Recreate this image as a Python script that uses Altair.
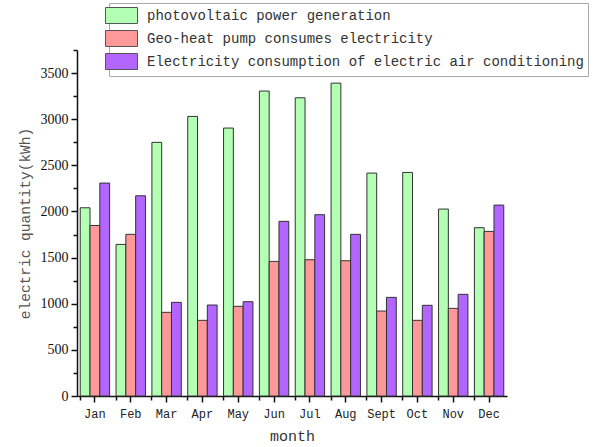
import altair as alt
import pandas as pd

months = ["Jan", "Feb", "Mar", "Apr", "May", "Jun", "Jul", "Aug", "Sept", "Oct", "Nov", "Dec"]
pv = [2040, 1643, 2749, 3030, 2904, 3305, 3232, 3391, 2416, 2423, 2026, 1824]
geo = [1848, 1752, 907, 820, 972, 1459, 1477, 1466, 921, 820, 950, 1784]
ac = [2308, 2170, 1015, 986, 1022, 1893, 1965, 1752, 1069, 983, 1102, 2069]

series = ["photovoltaic power generation",
          "Geo-heat pump consumes electricity",
          "Electricity consumption of electric air conditioning"]
colors = ["#b3ffb3", "#ff9999", "#b366ff"]

rows = []
for i, m in enumerate(months):
    for s, vals in zip(series, [pv, geo, ac]):
        rows.append({"month": m, "series": s, "value": vals[i]})
df = pd.DataFrame(rows)

MONO = "Liberation Mono"
SERIF = "Liberation Serif"

x_main = alt.X("month:N", sort=months,
               scale=alt.Scale(paddingInner=0.18, paddingOuter=0.09),
               axis=alt.Axis(orient="bottom", title="month", labelAngle=0,
                             labelFont=MONO, labelFontSize=12, labelColor="#222",
                             titleFont=MONO, titleFontSize=15, titleColor="#333",
                             titleFontWeight="normal", titlePadding=9,
                             tickSize=6, tickColor="#111", tickWidth=1.5,
                             domainColor="#111", domainWidth=1.5,
                             labelPadding=6, grid=False))
y_main = alt.Y("value:Q", scale=alt.Scale(domain=[0, 3750], nice=False),
               axis=alt.Axis(orient="left", title="electric quantity(kWh)",
                             values=list(range(0, 3501, 500)), format="d",
                             labelFont=SERIF, labelFontSize=14, labelColor="#111",
                             titleFont=MONO, titleFontSize=14.5, titleColor="#555",
                             titleFontWeight="normal", titlePadding=8,
                             tickSize=6, tickColor="#111", tickWidth=1.5,
                             domainColor="#111", domainWidth=1.5,
                             labelPadding=3, grid=False))

bars = alt.Chart(df).mark_bar(stroke="#333", strokeWidth=1).encode(
    x=x_main,
    xOffset=alt.XOffset("series:N", sort=series),
    y=y_main,
    color=alt.Color("series:N", sort=series,
                    scale=alt.Scale(domain=series, range=colors),
                    legend=alt.Legend(title=None, orient="none",
                                      legendX=32, legendY=-47,
                                      symbolType="M-2,-1H2V1H-2Z",
                                      symbolSize=256,
                                      symbolStrokeColor="#555",
                                      symbolStrokeWidth=1,
                                      labelFont=MONO, labelFontSize=14,
                                      labelColor="#333", labelOffset=17,
                                      labelLimit=600,
                                      rowPadding=2, padding=4,
                                      strokeColor="#aaa",
                                      fillColor="white")),
)

minor = alt.Chart(df).mark_point(opacity=0).encode(
    x=alt.X("month:N", sort=months,
            axis=alt.Axis(orient="bottom", bandPosition=0, labels=False, title=None,
                          tickSize=4, tickColor="#111", tickWidth=1.5,
                          domain=False, grid=False)),
    y=alt.Y("value:Q",
            axis=alt.Axis(orient="left", values=list(range(250, 3751, 500)),
                          labels=False, title=None, tickSize=4,
                          tickColor="#111", tickWidth=1.5,
                          domain=False, grid=False)),
)

chart = alt.layer(bars, minor).resolve_axis(
    x="independent", y="independent"
).properties(
    width=430, height=346,
    autosize=alt.AutoSizeParams(type="none"),
    padding={"left": 77, "top": 50, "right": 96, "bottom": 51},
).configure_view(stroke=None)

chart.save("out.html", embed_options={"renderer": "svg", "actions": False})
